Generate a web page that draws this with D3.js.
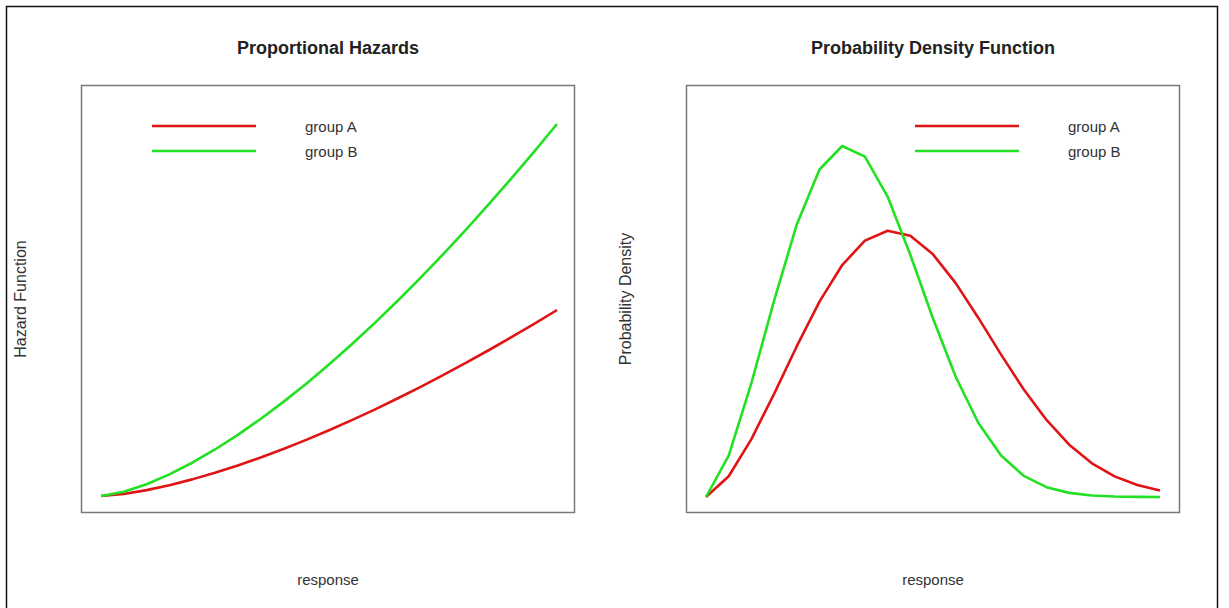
<!DOCTYPE html>
<html>
<head>
<meta charset="utf-8">
<script src="https://cdnjs.cloudflare.com/ajax/libs/d3/7.8.5/d3.min.js"></script>
<style>
  body { margin: 0; background: #fff; }
  svg text { font-family: "Liberation Sans", Arial, sans-serif; fill: #222; }
</style>
</head>
<body>
<svg id="chart" width="1229" height="608"></svg>
<script>
// response values (x) shared by both panels
var response = [0, 0.1, 0.2, 0.3, 0.4, 0.5, 0.6, 0.7, 0.8, 0.9, 1.0,
                1.1, 1.2, 1.3, 1.4, 1.5, 1.6, 1.7, 1.8, 1.9, 2.0];

// hazard function
var hazardA = [0, 0.079, 0.224, 0.411, 0.632, 0.884, 1.162, 1.464, 1.789, 2.135, 2.5,
               2.884, 3.286, 3.706, 4.141, 4.593, 5.060, 5.541, 6.037, 6.547, 7.071];
var hazardB = [0, 0.158, 0.447, 0.822, 1.265, 1.768, 2.324, 2.928, 3.578, 4.269, 5.0,
               5.768, 6.573, 7.411, 8.283, 9.186, 10.119, 11.083, 12.075, 13.095, 14.142];

// probability density
var densityA = [0, 0.0788, 0.2196, 0.3910, 0.5716, 0.7407, 0.8792, 0.9717, 1.0092, 0.9899, 0.9197,
                0.8108, 0.6787, 0.5396, 0.4073, 0.2919, 0.1985, 0.1279, 0.0782, 0.0452, 0.0247];
var densityB = [0, 0.1571, 0.4315, 0.7445, 1.0332, 1.2413, 1.3304, 1.2899, 1.1387, 0.9181, 0.6767,
                0.4558, 0.2803, 0.1571, 0.0801, 0.0371, 0.0156, 0.0059, 0.0020, 0.0006, 0.0002];

var groups = ["group A", "group B"];
var colors = ["#e01414", "#22e022"];

var svg = d3.select("#chart");

// outer frame
svg.append("rect")
  .attr("x", 6.5).attr("y", 6.5)
  .attr("width", 1211).attr("height", 640)
  .attr("fill", "none")
  .attr("stroke", "#111")
  .attr("stroke-width", 1.5);

function drawPanel(opts){
  var box = opts.box;

  var x = d3.scaleLinear().domain([0, 2]).range(opts.xRange);
  var y = d3.scaleLinear().domain(opts.yDomain).range(opts.yRange);

  var g = svg.append("g");

  g.append("rect")
    .attr("x", box.x).attr("y", box.y)
    .attr("width", box.w).attr("height", box.h)
    .attr("fill", "none")
    .attr("stroke", "#7a7a7a")
    .attr("stroke-width", 1.5);

  var line = d3.line()
    .x(function(d, i){ return x(response[i]); })
    .y(function(d){ return y(d); });

  opts.series.forEach(function(s, i){
    g.append("path")
      .datum(s)
      .attr("d", line)
      .attr("fill", "none")
      .attr("stroke", colors[i])
      .attr("stroke-width", 2.6)
      .attr("stroke-linejoin", "round");
  });

  // title
  g.append("text")
    .attr("x", box.x + box.w / 2)
    .attr("y", 54)
    .attr("text-anchor", "middle")
    .style("font-size", "18px")
    .style("font-weight", "bold")
    .text(opts.title);

  // x label
  g.append("text")
    .attr("x", box.x + box.w / 2)
    .attr("y", 585)
    .attr("text-anchor", "middle")
    .style("font-size", "15px")
    .style("fill", "#333")
    .text("response");

  // y label
  g.append("text")
    .attr("transform", "translate(" + opts.yLabelX + "," + (box.y + box.h / 2) + ") rotate(-90)")
    .attr("text-anchor", "middle")
    .style("font-size", "16px")
    .style("fill", "#333")
    .text(opts.yLabel);

  // legend
  var legend = g.selectAll(".legend")
    .data(groups)
    .enter().append("g")
      .attr("class", "legend")
      .attr("transform", function(d, i){ return "translate(" + opts.legendX + "," + (126 + i * 25) + ")"; });

  legend.append("line")
    .attr("x1", 0).attr("x2", 104)
    .attr("y1", 0).attr("y2", 0)
    .attr("stroke", function(d, i){ return colors[i]; })
    .attr("stroke-width", 2.6);

  legend.append("text")
    .attr("x", 153)
    .attr("y", 5.5)
    .style("font-size", "15px")
    .style("fill", "#333")
    .text(function(d){ return d; });
}

drawPanel({
  box: {x: 81.5, y: 85.5, w: 493, h: 427},
  xRange: [101, 557],
  yDomain: [0, 14.142],
  yRange: [496, 124],
  series: [hazardA, hazardB],
  title: "Proportional Hazards",
  yLabel: "Hazard Function",
  yLabelX: 25.5,
  legendX: 152
});

drawPanel({
  box: {x: 686.5, y: 85.5, w: 493, h: 427},
  xRange: [706, 1160],
  yDomain: [0, 1.3304],
  yRange: [497, 146],
  series: [densityA, densityB],
  title: "Probability Density Function",
  yLabel: "Probability Density",
  yLabelX: 630.5,
  legendX: 915
});
</script>
</body>
</html>
